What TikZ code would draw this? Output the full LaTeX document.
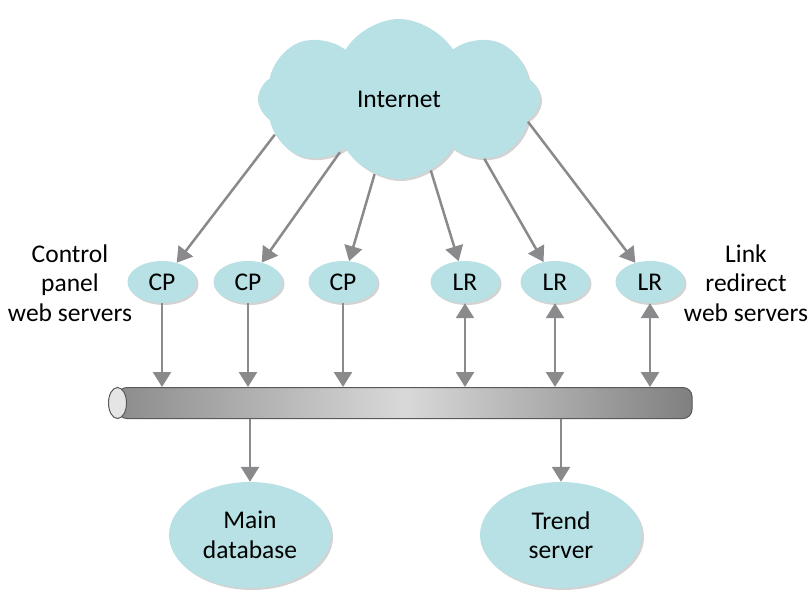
\documentclass[tikz,border=0pt]{standalone}
\usepackage{fontspec}
\setmainfont{Carlito}
\usetikzlibrary{shapes.geometric, shapes.symbols, arrows.meta, positioning, shadows}

\definecolor{nodeteal}{RGB}{183,225,228}
\definecolor{arrowgray}{RGB}{138,138,140}

\begin{document}
\begin{tikzpicture}[
    x=1pt, y=-1pt,
    every node/.style={font=\fontsize{25.5}{29.5}\selectfont},
    server/.style={
        ellipse,
        fill=nodeteal,
        minimum width=69pt,
        minimum height=42pt,
        inner sep=0pt,
        drop shadow={shadow xshift=2pt, shadow yshift=-2pt, opacity=0.35}
    },
    store/.style={
        ellipse,
        fill=nodeteal,
        minimum width=162pt,
        minimum height=106pt,
        align=center,
        inner sep=0pt,
        drop shadow={shadow xshift=2pt, shadow yshift=-2pt, opacity=0.35}
    },
    arrow/.style={
        -{Triangle[length=15pt, width=18pt]},
        line width=2.5pt,
        draw=arrowgray
    },
    twoway/.style={
        {Triangle[length=15pt, width=18pt]}-{Triangle[length=15pt, width=18pt]},
        line width=2.5pt,
        draw=arrowgray
    }
]
\useasboundingbox (0,0) rectangle (811,598);

% cloud at the top
\node (inet) [cloud, cloud puffs=8, cloud puff arc=120, aspect=1.8,
    fill=nodeteal, minimum width=282pt, minimum height=160pt,
    drop shadow={shadow xshift=2pt, shadow yshift=-2pt, opacity=0.35}]
    at (399,99) {Internet};

% web servers
\node (cp1) [server] at (162,282) {CP};
\node (cp2) [server] at (248,282) {CP};
\node (cp3) [server] at (343,282) {CP};
\node (lr1) [server] at (465,282) {LR};
\node (lr2) [server] at (555,282) {LR};
\node (lr3) [server] at (650,282) {LR};

\node (cplabel) [align=center] at (70,283) {Control\\panel\\web servers};
\node (lrlabel) [align=center] at (746,283) {Link\\redirect\\web servers};

% network bus
\node (bus) [rectangle, rounded corners=9pt, minimum width=574pt,
    minimum height=31pt, draw=black!65, line width=1pt,
    left color=black!45, right color=black!50, middle color=black!15,
    inner sep=0pt] at (405,403) {};
\node (cap) [ellipse, minimum width=18pt, minimum height=31pt, inner sep=0pt,
    draw=black!65, line width=1pt, fill=black!10] at (bus.west) {};

% back ends
\node (main) [store] at (250,535) {Main\\database};
\node (trend) [store] at (561,535) {Trend\\server};

\draw [arrow] (inet.196) -- (cp1);
\draw [arrow] (inet.222) -- (cp2);
\draw [arrow] (inet.252) -- (cp3);
\draw [arrow] (inet.294) -- (lr1);
\draw [arrow] (inet.325) -- (lr2);
\draw [arrow] (inet.350) -- (lr3);

\draw [arrow] (cp1) -- (cp1 |- bus.north);
\draw [arrow] (cp2) -- (cp2 |- bus.north);
\draw [arrow] (cp3) -- (cp3 |- bus.north);
\draw [twoway] (lr1) -- (lr1 |- bus.north);
\draw [twoway] (lr2) -- (lr2 |- bus.north);
\draw [twoway] (lr3) -- (lr3 |- bus.north);

\draw [arrow] (main |- bus.south) -- (main);
\draw [arrow] (trend |- bus.south) -- (trend);

\end{tikzpicture}
\end{document}
